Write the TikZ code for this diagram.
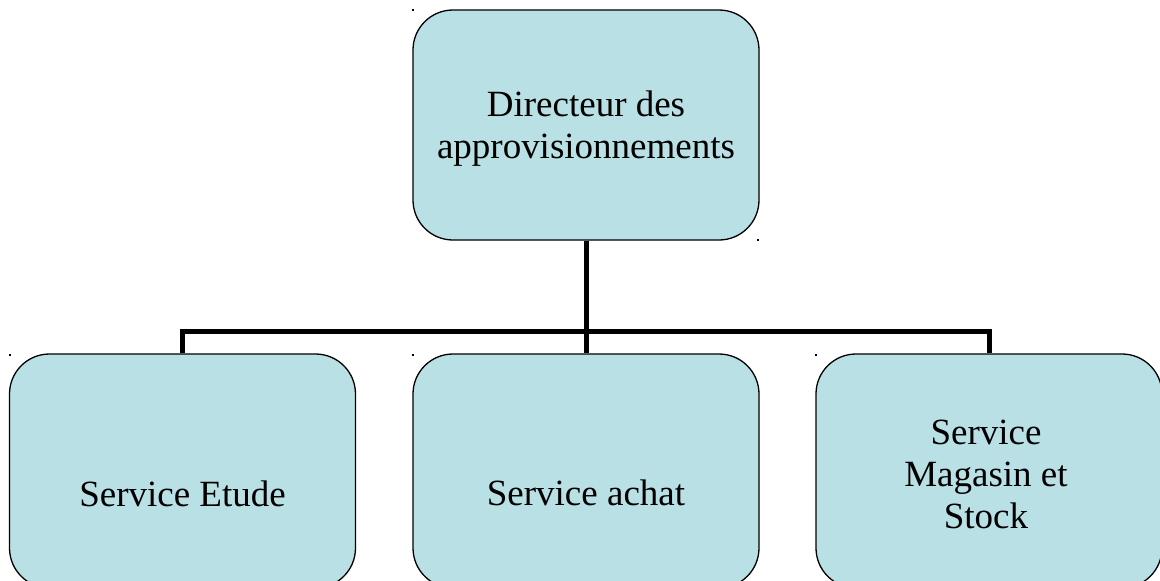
\documentclass[tikz,border=0pt]{standalone}
\usepackage{fontspec}
\setmainfont{Liberation Serif}
\definecolor{boxfill}{RGB}{185,224,228}
\tikzset{
  orgbox/.style={draw=black, line width=1.3pt, fill=boxfill, rounded corners=40pt,
    inner sep=0pt, minimum width=346pt, minimum height=232pt},
  orgtext/.style={inner sep=0pt, align=center, font=\fontsize{37pt}{42pt}\selectfont},
  conn/.style={draw=black, line width=5pt, line join=miter},
  tick/.style={fill=black}
}
\begin{document}
\begin{tikzpicture}[x=1pt,y=-1pt]
\path[use as bounding box] (0,0) rectangle (1160,581);
\clip (0,0) rectangle (1160,581);
\fill[white] (0,0) rectangle (1160,581);
% boxes
\node[orgbox, minimum height=230pt] (dir) at (586,125) {};
\node[orgbox, minimum height=234pt] (etude) at (182.5,471) {};
\node[orgbox, minimum height=234pt] (achat) at (586,471) {};
\node[orgbox, minimum height=234pt] (stock) at (989,471) {};
% texts
\node[orgtext] (tdir) at (586,129) {Directeur des\\approvisionnements};
\node[orgtext, anchor=base] (tetude) at (182.5,506) {Service Etude};
\node[orgtext, anchor=base] (tachat) at (586,505) {Service achat};
\node[orgtext] (tstock) at (986,474.5) {Service\\Magasin et\\Stock};
% connectors
\coordinate (j) at (586,331.5);
\draw[conn] (dir.south) -- (j);
\draw[conn] (etude.north) |- (j) -| (stock.north);
\draw[conn] (j) -- (achat.north);
% small marks
\fill[tick] (411.5,9) rectangle ++(2,1.5);
\fill[tick] (757,239) rectangle ++(2,1.5);
\fill[tick] (9,354) rectangle ++(2,1.5);
\fill[tick] (412,354) rectangle ++(2,1.5);
\fill[tick] (815,354) rectangle ++(2,1.5);
\end{tikzpicture}
\end{document}
